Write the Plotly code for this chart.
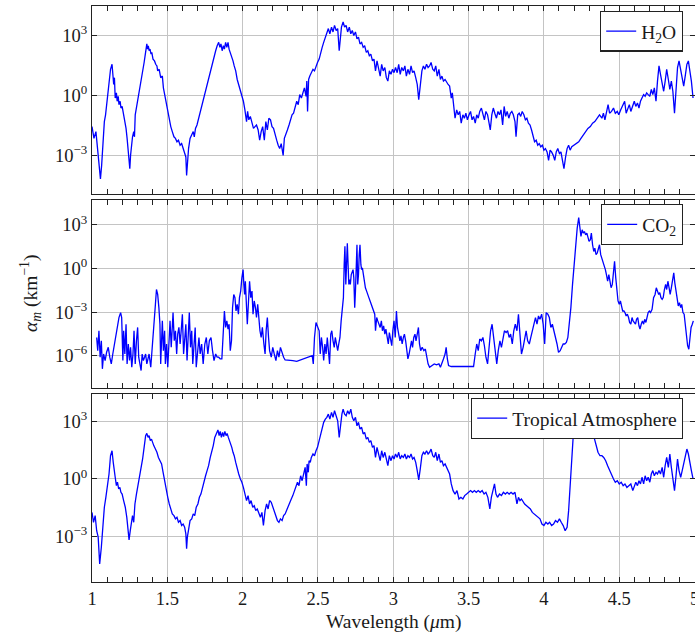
import numpy as np
import plotly.graph_objects as go

# ---------------- data (wavelength in um, log10 of alpha_m in km^-1) ----------------
h2o_wl = [
 1.000,1.013,1.026,1.038,1.046,1.056,1.064,1.072,1.082,1.090,
 1.097,1.108,1.115,1.123,1.133,1.138,1.144,1.149,1.154,1.162,
 1.167,1.174,1.179,1.187,1.192,1.200,1.210,1.218,1.226,1.233,
 1.241,1.246,1.251,1.256,1.262,1.269,1.277,1.282,1.287,1.295,
 1.303,1.310,1.321,1.328,1.338,1.346,1.354,1.359,1.364,1.369,
 1.374,1.379,1.385,1.392,1.397,1.405,1.415,1.423,1.431,1.436,
 1.446,1.456,1.467,1.474,1.482,1.492,1.503,1.513,1.523,1.533,
 1.544,1.554,1.564,1.574,1.585,1.595,1.605,1.615,1.623,1.628,
 1.633,1.641,1.651,1.662,1.672,1.679,1.687,1.697,1.708,1.718,
 1.728,1.738,1.749,1.759,1.769,1.779,1.790,1.800,1.810,1.821,
 1.831,1.841,1.849,1.856,1.864,1.872,1.879,1.887,1.895,1.903,
 1.910,1.918,1.928,1.936,1.944,1.954,1.964,1.974,1.985,1.995,
 2.005,2.015,2.026,2.033,2.041,2.051,2.062,2.072,2.082,2.092,
 2.103,2.113,2.123,2.133,2.144,2.154,2.164,2.174,2.185,2.195,
 2.205,2.215,2.226,2.236,2.246,2.256,2.269,2.277,2.287,2.297,
 2.308,2.318,2.328,2.338,2.349,2.359,2.369,2.379,2.390,2.400,
 2.410,2.421,2.426,2.431,2.438,2.446,2.456,2.467,2.477,2.487,
 2.497,2.508,2.518,2.528,2.538,2.549,2.559,2.569,2.579,2.590,
 2.600,2.610,2.621,2.631,2.641,2.649,2.656,2.667,2.677,2.687,
 2.697,2.708,2.718,2.728,2.738,2.749,2.759,2.769,2.779,2.790,
 2.800,2.810,2.821,2.831,2.841,2.851,2.862,2.872,2.882,2.892,
 2.903,2.913,2.923,2.933,2.944,2.954,2.964,2.974,2.985,2.995,
 3.005,3.015,3.026,3.036,3.046,3.056,3.067,3.077,3.087,3.097,
 3.108,3.118,3.128,3.138,3.149,3.159,3.169,3.179,3.190,3.200,
 3.210,3.221,3.231,3.241,3.251,3.262,3.272,3.282,3.292,3.303,
 3.313,3.323,3.333,3.344,3.354,3.364,3.374,3.385,3.392,3.400,
 3.410,3.421,3.431,3.441,3.451,3.462,3.472,3.482,3.492,3.503,
 3.513,3.523,3.533,3.544,3.554,3.564,3.574,3.585,3.595,3.605,
 3.615,3.626,3.636,3.644,3.654,3.664,3.674,3.685,3.695,3.705,
 3.715,3.726,3.736,3.746,3.756,3.767,3.777,3.787,3.797,3.808,
 3.815,3.826,3.836,3.846,3.856,3.867,3.877,3.887,3.897,3.908,
 3.918,3.928,3.938,3.949,3.959,3.969,3.979,3.990,4.000,4.010,
 4.021,4.031,4.041,4.051,4.062,4.072,4.082,4.092,4.103,4.113,
 4.123,4.133,4.144,4.154,4.164,4.174,4.185,4.200,4.215,4.231,
 4.246,4.262,4.277,4.292,4.308,4.323,4.338,4.354,4.369,4.385,
 4.395,4.405,4.415,4.426,4.436,4.449,4.462,4.474,4.487,4.497,
 4.510,4.526,4.536,4.546,4.556,4.567,4.577,4.590,4.600,4.610,
 4.621,4.631,4.641,4.651,4.662,4.672,4.682,4.692,4.703,4.713,
 4.723,4.733,4.744,4.754,4.764,4.774,4.785,4.795,4.805,4.815,
 4.826,4.836,4.846,4.856,4.867,4.877,4.887,4.897,4.908,4.918,
 4.928,4.938,4.949,4.959,4.969,4.979,4.990]
h2o_log = [
 -1.57,-2.16,-1.82,-2.67,-3.34,-4.19,-3.51,-2.50,-1.32,-0.98,
 -0.47,0.20,0.71,1.30,1.55,1.05,0.54,0.88,-0.14,0.12,
 -0.30,-0.05,-0.47,-0.30,-0.64,-0.56,-0.98,-1.15,-1.66,-2.16,
 -2.84,-3.34,-3.68,-3.01,-2.50,-2.08,-1.82,-2.08,-0.98,-0.64,
 -0.30,0.03,0.37,0.79,1.22,1.64,2.06,2.48,2.57,2.31,
 2.48,2.23,2.31,2.06,2.15,1.81,1.72,1.55,1.47,1.22,
 1.30,0.88,0.96,0.37,0.03,-0.47,-0.90,-1.15,-1.57,-1.82,
 -2.08,-2.16,-2.33,-2.25,-2.50,-2.42,-2.67,-2.84,-3.09,-4.02,
 -3.34,-2.67,-2.16,-1.99,-1.82,-2.08,-1.66,-1.49,-1.15,-0.98,
 -0.56,-0.30,0.12,0.37,0.63,0.96,1.30,1.55,1.89,2.23,
 2.48,2.65,2.40,2.57,2.23,2.48,2.31,2.65,2.40,2.65,
 2.31,2.15,1.89,1.72,1.47,1.22,0.79,0.54,0.20,0.03,
 -0.30,-0.73,-1.32,-0.81,-1.23,-1.06,-1.40,-1.66,-1.57,-1.49,
 -1.74,-2.25,-1.82,-1.57,-2.25,-1.32,-1.74,-1.15,-1.23,-1.57,
 -1.66,-1.99,-2.25,-2.50,-2.67,-2.42,-3.01,-2.16,-1.99,-1.74,
 -1.49,-1.23,-0.98,-0.90,-0.64,-0.30,-0.47,0.03,-0.14,0.20,
 0.37,-0.05,0.71,-0.81,0.79,0.96,1.13,1.30,1.22,1.47,
 1.64,1.81,2.15,2.40,2.65,2.91,3.17,3.34,3.08,3.41,
 3.17,3.50,3.24,3.34,2.23,3.08,3.41,3.67,3.41,3.50,
 3.17,3.41,3.08,3.24,2.99,3.17,2.82,2.91,2.57,2.65,
 2.40,2.48,2.15,2.23,1.98,2.06,1.72,1.81,1.22,1.72,
 1.39,0.96,1.55,1.22,1.39,0.88,0.71,1.22,1.05,1.30,
 1.13,1.39,1.13,1.55,1.05,1.39,1.22,1.47,0.96,1.30,
 1.05,1.47,1.13,1.22,0.88,0.54,-0.22,0.54,1.22,1.47,
 1.30,1.55,1.39,1.47,1.64,1.30,1.22,1.47,0.96,1.30,
 0.79,0.96,0.71,0.79,0.63,0.54,0.46,-0.14,0.12,-0.64,
 -1.15,-0.73,-0.98,-0.81,-1.40,-0.98,-1.15,-0.90,-1.23,-0.98,
 -0.81,-1.23,-1.06,-1.40,-0.98,-1.15,-0.81,-0.64,-0.90,-1.23,
 -0.81,-0.98,-1.40,-1.74,-0.98,-0.64,-0.90,-1.15,-0.81,-0.98,
 -0.73,-1.49,-0.56,-1.06,-0.81,-1.15,-0.90,-0.81,-0.98,-1.32,
 -2.08,-0.98,-0.90,-1.06,-0.81,-0.98,-1.23,-1.15,-1.40,-1.49,
 -1.74,-1.99,-2.33,-2.25,-2.50,-2.42,-2.58,-2.50,-2.75,-2.67,
 -2.84,-3.26,-2.75,-2.84,-3.01,-3.26,-2.84,-2.67,-2.92,-2.84,
 -3.18,-3.68,-3.09,-2.67,-2.50,-2.75,-2.58,-2.50,-2.42,-2.33,
 -2.16,-1.99,-1.82,-1.66,-1.57,-1.40,-1.32,-1.15,-0.98,-1.15,
 -0.90,-1.23,-0.81,-0.47,-0.90,-0.81,-0.64,-0.90,-0.81,-0.98,
 -0.73,-0.47,-0.30,-0.90,-0.64,-0.47,-0.81,-0.56,-0.30,-0.56,
 -0.39,-0.64,-0.30,-0.14,0.03,-0.05,0.12,0.03,-0.05,0.29,
 0.03,0.37,-0.30,0.71,1.47,1.05,0.54,0.20,0.71,1.30,
 0.79,0.29,0.71,0.20,-0.90,0.37,1.39,1.72,1.30,0.88,
 0.46,0.96,1.55,1.72,1.22,0.71,-0.14]

co2_wl = [
 1.031,1.038,1.046,1.054,1.062,1.069,1.077,1.087,1.097,1.108,
 1.118,1.128,1.138,1.149,1.159,1.169,1.179,1.190,1.197,1.205,
 1.210,1.218,1.226,1.233,1.241,1.249,1.256,1.264,1.272,1.279,
 1.287,1.295,1.303,1.310,1.318,1.326,1.333,1.341,1.349,1.356,
 1.364,1.372,1.379,1.390,1.397,1.405,1.413,1.421,1.428,1.436,
 1.444,1.451,1.456,1.462,1.467,1.474,1.482,1.487,1.495,1.503,
 1.510,1.518,1.526,1.533,1.538,1.546,1.554,1.562,1.569,1.577,
 1.585,1.592,1.600,1.608,1.615,1.623,1.631,1.638,1.646,1.654,
 1.662,1.669,1.677,1.685,1.692,1.703,1.710,1.718,1.728,1.738,
 1.749,1.759,1.769,1.779,1.790,1.800,1.810,1.821,1.831,1.841,
 1.851,1.862,1.872,1.879,1.887,1.895,1.903,1.910,1.918,1.926,
 1.933,1.941,1.949,1.956,1.964,1.972,1.979,1.987,1.995,2.003,
 2.008,2.013,2.018,2.023,2.031,2.038,2.046,2.054,2.062,2.069,
 2.077,2.085,2.092,2.100,2.108,2.115,2.123,2.131,2.141,2.149,
 2.156,2.164,2.172,2.179,2.190,2.200,2.210,2.221,2.231,2.241,
 2.251,2.262,2.272,2.282,2.308,2.333,2.359,2.385,2.410,2.436,
 2.462,2.469,2.477,2.487,2.497,2.508,2.515,2.523,2.531,2.538,
 2.546,2.554,2.562,2.569,2.577,2.585,2.592,2.600,2.608,2.615,
 2.623,2.631,2.638,2.646,2.654,2.662,2.669,2.674,2.679,2.685,
 2.690,2.695,2.700,2.705,2.710,2.715,2.721,2.728,2.733,2.738,
 2.744,2.749,2.754,2.759,2.764,2.769,2.774,2.779,2.785,2.790,
 2.795,2.800,2.808,2.815,2.823,2.831,2.838,2.846,2.854,2.862,
 2.869,2.877,2.882,2.890,2.897,2.905,2.913,2.921,2.928,2.936,
 2.944,2.951,2.959,2.967,2.974,2.982,2.990,2.997,3.005,3.013,
 3.021,3.028,3.036,3.044,3.051,3.059,3.067,3.074,3.082,3.090,
 3.097,3.105,3.113,3.121,3.128,3.136,3.144,3.151,3.159,3.167,
 3.174,3.182,3.192,3.203,3.213,3.223,3.231,3.241,3.256,3.272,
 3.287,3.303,3.313,3.323,3.333,3.344,3.351,3.359,3.367,3.385,
 3.410,3.436,3.462,3.487,3.513,3.533,3.544,3.554,3.564,3.574,
 3.585,3.595,3.605,3.615,3.626,3.636,3.646,3.656,3.667,3.677,
 3.687,3.697,3.708,3.718,3.728,3.738,3.749,3.759,3.769,3.779,
 3.790,3.800,3.810,3.821,3.831,3.841,3.851,3.862,3.872,3.882,
 3.892,3.903,3.913,3.923,3.933,3.944,3.954,3.964,3.974,3.985,
 3.995,4.005,4.015,4.026,4.036,4.046,4.056,4.067,4.077,4.087,
 4.097,4.108,4.118,4.128,4.138,4.149,4.159,4.169,4.179,4.190,
 4.200,4.210,4.221,4.231,4.238,4.246,4.254,4.262,4.269,4.277,
 4.285,4.292,4.300,4.308,4.315,4.323,4.331,4.338,4.346,4.354,
 4.362,4.369,4.377,4.385,4.392,4.400,4.408,4.415,4.423,4.431,
 4.438,4.446,4.454,4.462,4.469,4.477,4.485,4.492,4.500,4.508,
 4.515,4.523,4.531,4.538,4.546,4.554,4.562,4.569,4.577,4.585,
 4.592,4.600,4.608,4.615,4.623,4.631,4.638,4.646,4.654,4.662,
 4.669,4.677,4.685,4.692,4.700,4.708,4.718,4.728,4.738,4.746,
 4.754,4.762,4.769,4.777,4.785,4.792,4.800,4.808,4.815,4.823,
 4.831,4.838,4.846,4.854,4.862,4.869,4.877,4.885,4.892,4.900,
 4.908,4.915,4.923,4.931,4.938,4.946,4.954,4.962,4.969,4.977,
 4.985,4.992]
co2_log = [
 -4.74,-5.65,-4.28,-6.10,-4.97,-6.90,-5.88,-6.33,-5.76,-5.42,
 -6.10,-6.56,-5.88,-5.19,-4.51,-3.83,-3.37,-3.03,-3.37,-6.33,
 -4.28,-5.88,-3.83,-6.56,-5.19,-6.33,-5.42,-6.79,-5.88,-4.28,
 -6.56,-4.97,-4.05,-6.10,-6.56,-7.02,-5.88,-6.33,-6.10,-5.88,
 -6.56,-6.10,-5.88,-6.79,-5.65,-4.28,-3.37,-2.46,-1.44,-1.78,
 -2.69,-3.83,-6.56,-4.97,-3.60,-5.65,-4.28,-6.56,-5.19,-6.79,
 -4.74,-3.60,-5.42,-4.05,-3.03,-4.97,-4.28,-5.88,-4.51,-4.05,
 -5.19,-4.28,-3.14,-5.88,-4.51,-3.83,-6.33,-4.51,-3.03,-5.42,
 -4.28,-6.56,-4.97,-4.05,-6.79,-5.42,-4.74,-5.88,-5.19,-6.56,
 -5.19,-4.74,-5.88,-4.97,-4.74,-5.65,-6.33,-5.88,-6.10,-6.10,
 -6.22,-6.22,-3.83,-2.92,-4.05,-3.60,-4.17,-3.83,-5.65,-4.97,
 -2.69,-1.78,-2.00,-2.92,-2.46,-3.14,-2.00,-1.55,-0.64,-0.07,
 -1.09,-1.78,-0.87,-2.69,-3.83,-2.46,-0.87,-2.00,-1.55,-3.14,
 -2.23,-2.69,-3.37,-2.46,-3.83,-4.28,-4.74,-4.05,-5.19,-5.88,
 -4.28,-3.37,-4.74,-5.65,-6.10,-5.42,-5.88,-6.33,-5.65,-6.10,
 -5.42,-5.88,-6.10,-6.29,-6.29,-6.33,-6.38,-6.29,-6.15,-6.06,
 -5.99,-6.56,-4.74,-3.71,-4.05,-4.28,-5.88,-4.74,-5.42,-6.33,
 -5.19,-5.88,-4.74,-5.42,-6.56,-4.51,-4.28,-4.97,-5.42,-4.74,
 -5.19,-5.65,-5.19,-4.74,-3.60,-2.92,-2.00,0.27,1.53,-1.09,
 0.27,1.75,0.27,-1.09,-0.75,-1.09,-0.41,-0.18,-0.07,-0.64,
 -2.69,-1.55,0.27,1.64,-1.09,-0.41,0.96,1.64,0.27,-0.07,
 0.05,-0.30,-0.87,-1.32,-1.55,-1.89,-2.00,-2.23,-2.46,-2.69,
 -3.03,-3.14,-4.28,-3.37,-3.60,-3.83,-4.05,-3.60,-4.28,-3.94,
 -4.51,-4.17,-4.74,-5.19,-4.40,-4.97,-5.31,-4.28,-3.60,-4.74,
 -2.92,-4.05,-4.51,-4.97,-4.63,-5.19,-4.74,-4.51,-4.97,-5.65,
 -6.22,-5.88,-5.31,-4.97,-5.42,-4.74,-4.51,-4.97,-4.51,-4.05,
 -5.19,-5.65,-5.42,-5.65,-5.54,-6.10,-6.56,-6.79,-6.67,-6.56,
 -6.63,-6.56,-6.79,-6.56,-6.22,-5.88,-5.42,-6.22,-6.67,-6.74,
 -6.74,-6.74,-6.74,-6.74,-6.74,-6.74,-5.88,-5.19,-5.65,-4.85,
 -4.97,-4.74,-5.31,-6.10,-6.56,-5.19,-4.28,-3.83,-4.97,-5.88,
 -6.56,-5.65,-4.97,-5.42,-4.74,-4.28,-4.40,-4.28,-4.74,-4.51,
 -5.19,-4.28,-3.83,-4.28,-3.14,-4.74,-5.88,-5.42,-4.74,-4.28,
 -4.97,-5.19,-4.74,-4.28,-3.83,-3.37,-3.83,-3.26,-3.49,-3.14,
 -3.83,-5.19,-3.03,-3.14,-3.37,-4.05,-3.83,-4.28,-4.74,-5.19,
 -5.76,-5.65,-5.42,-5.19,-5.19,-5.08,-4.74,-3.83,-2.69,-1.09,
 0.27,1.64,2.78,3.51,2.89,2.21,2.67,2.44,2.55,2.32,
 2.44,2.10,1.87,1.98,2.44,1.64,1.18,1.41,0.96,1.07,
 1.41,1.64,0.96,0.73,0.39,0.27,-0.07,-0.41,-0.87,-0.41,
 -0.75,-1.32,-1.09,-0.07,0.50,-0.64,-1.78,-2.23,-2.46,-2.23,
 -2.57,-2.92,-2.92,-3.03,-3.26,-3.14,-3.37,-3.71,-3.83,-3.37,
 -3.60,-3.71,-3.83,-3.49,-3.37,-3.94,-4.17,-3.83,-3.60,-3.83,
 -3.49,-3.71,-3.26,-3.03,-2.92,-3.03,-2.80,-2.00,-1.78,-1.32,
 -1.55,-1.78,-1.66,-2.00,-2.12,-2.00,-1.44,-1.09,-1.44,-0.87,
 -1.32,-1.78,-1.32,-0.64,-0.30,-0.98,-1.55,-2.23,-2.57,-2.35,
 -2.69,-2.46,-3.03,-3.14,-3.83,-4.51,-5.31,-5.55,-4.51,-4.05,
 -3.83,-3.60]

trop_wl = [
 1.000,1.010,1.021,1.031,1.041,1.051,1.062,1.072,1.082,1.092,
 1.103,1.113,1.123,1.133,1.141,1.146,1.154,1.162,1.169,1.177,
 1.185,1.192,1.200,1.210,1.221,1.231,1.238,1.246,1.254,1.262,
 1.269,1.277,1.285,1.295,1.305,1.315,1.326,1.336,1.346,1.356,
 1.364,1.372,1.379,1.387,1.395,1.403,1.410,1.421,1.431,1.441,
 1.451,1.462,1.472,1.482,1.492,1.503,1.513,1.523,1.533,1.544,
 1.554,1.564,1.574,1.585,1.595,1.605,1.615,1.623,1.628,1.633,
 1.641,1.651,1.662,1.672,1.682,1.692,1.703,1.713,1.723,1.733,
 1.744,1.754,1.764,1.774,1.785,1.795,1.805,1.815,1.826,1.836,
 1.844,1.851,1.859,1.867,1.874,1.882,1.890,1.897,1.905,1.913,
 1.921,1.928,1.936,1.944,1.954,1.964,1.974,1.985,1.995,2.005,
 2.015,2.026,2.036,2.046,2.056,2.067,2.077,2.087,2.097,2.108,
 2.118,2.128,2.138,2.149,2.159,2.169,2.179,2.190,2.200,2.210,
 2.221,2.231,2.241,2.251,2.262,2.272,2.282,2.292,2.303,2.313,
 2.323,2.333,2.344,2.354,2.364,2.374,2.385,2.395,2.405,2.415,
 2.423,2.428,2.436,2.441,2.449,2.456,2.467,2.477,2.487,2.497,
 2.508,2.518,2.528,2.538,2.549,2.559,2.569,2.579,2.590,2.600,
 2.610,2.621,2.631,2.641,2.649,2.659,2.667,2.677,2.687,2.697,
 2.708,2.718,2.728,2.738,2.749,2.759,2.769,2.779,2.790,2.800,
 2.810,2.821,2.831,2.841,2.851,2.862,2.872,2.882,2.892,2.903,
 2.913,2.923,2.933,2.944,2.954,2.964,2.974,2.985,2.995,3.005,
 3.015,3.026,3.036,3.046,3.056,3.067,3.077,3.087,3.097,3.108,
 3.118,3.128,3.138,3.149,3.159,3.169,3.179,3.190,3.200,3.210,
 3.221,3.231,3.241,3.251,3.262,3.272,3.282,3.292,3.303,3.313,
 3.323,3.333,3.344,3.354,3.364,3.374,3.385,3.397,3.410,3.423,
 3.436,3.449,3.462,3.474,3.487,3.500,3.513,3.526,3.538,3.551,
 3.564,3.577,3.590,3.603,3.615,3.628,3.641,3.651,3.662,3.672,
 3.682,3.692,3.705,3.718,3.731,3.744,3.756,3.769,3.782,3.795,
 3.808,3.821,3.831,3.841,3.851,3.862,3.872,3.885,3.897,3.910,
 3.923,3.936,3.949,3.962,3.974,3.987,4.000,4.013,4.026,4.038,
 4.051,4.064,4.077,4.090,4.103,4.115,4.128,4.141,4.154,4.164,
 4.174,4.185,4.195,4.205,4.218,4.231,4.244,4.256,4.269,4.282,
 4.295,4.308,4.321,4.333,4.346,4.359,4.372,4.385,4.397,4.410,
 4.423,4.436,4.449,4.462,4.474,4.487,4.500,4.513,4.526,4.538,
 4.551,4.564,4.577,4.590,4.600,4.610,4.621,4.631,4.641,4.651,
 4.662,4.672,4.682,4.692,4.703,4.713,4.723,4.733,4.744,4.754,
 4.764,4.774,4.785,4.795,4.805,4.815,4.826,4.836,4.846,4.856,
 4.867,4.877,4.887,4.897,4.908,4.918,4.928,4.938,4.949,4.959,
 4.969,4.979,4.990]
trop_log = [
 -1.75,-2.27,-1.92,-2.71,-3.05,-4.45,-3.58,-2.36,-1.48,-0.96,
 -0.26,0.26,1.22,1.48,0.87,0.44,0.09,-0.35,-0.17,-0.52,
 -0.44,-0.70,-0.79,-1.13,-1.48,-2.01,-2.71,-3.19,-2.71,-2.18,
 -1.92,-2.27,-1.31,-0.79,-0.35,0.09,0.52,1.05,1.66,2.27,
 2.39,2.18,2.27,2.01,2.09,1.83,1.75,1.57,1.40,1.13,
 0.96,0.79,0.35,-0.09,-0.61,-0.96,-1.31,-1.57,-1.83,-1.92,
 -2.09,-2.01,-2.27,-2.18,-2.44,-2.36,-2.53,-2.88,-3.66,-3.05,
 -2.53,-2.18,-2.09,-1.83,-1.92,-1.48,-1.31,-0.96,-0.79,-0.44,
 -0.17,0.17,0.44,0.70,1.13,1.40,1.75,2.18,2.44,2.57,
 2.27,2.50,2.18,2.44,2.22,2.50,2.27,2.39,2.18,2.01,
 1.83,1.66,1.40,1.22,0.87,0.52,0.26,0.00,-0.17,-0.44,
 -0.79,-1.13,-0.87,-1.31,-1.13,-1.48,-1.40,-1.66,-1.57,-1.83,
 -2.01,-1.75,-2.44,-1.66,-1.31,-1.57,-1.13,-1.22,-1.48,-1.66,
 -1.92,-2.18,-2.27,-2.09,-2.18,-1.92,-1.83,-1.66,-1.40,-1.31,
 -1.05,-0.87,-0.61,-0.44,-0.17,-0.35,0.17,-0.09,0.35,0.61,
 -0.35,0.79,0.35,0.96,0.87,1.13,1.31,1.22,1.48,1.66,
 2.01,2.36,2.71,2.97,3.14,3.23,3.40,3.14,3.49,3.23,
 3.58,3.32,3.05,2.18,2.88,3.40,3.66,3.40,3.32,3.58,
 3.40,3.66,3.23,3.05,3.23,2.79,2.97,2.62,2.71,2.36,
 2.44,2.09,2.18,1.92,2.01,1.66,1.75,1.13,1.66,1.22,
 0.96,1.48,1.13,1.40,0.96,0.70,1.22,0.96,1.22,1.05,
 1.31,1.13,1.40,1.05,1.22,1.13,1.31,1.05,1.22,1.13,
 1.31,1.05,1.13,0.87,0.44,-0.05,0.52,1.22,1.40,1.31,
 1.48,1.31,1.40,1.57,1.22,1.13,1.40,0.96,1.31,0.87,
 0.96,0.70,0.79,0.61,0.44,0.26,-0.26,-0.61,-0.79,-0.61,
 -1.05,-0.96,-1.05,-0.87,-0.79,-0.70,-0.61,-0.70,-0.61,-0.70,
 -0.61,-0.70,-0.61,-0.79,-0.70,-0.96,-1.57,-0.96,-0.61,-0.26,
 -0.79,-0.96,-0.79,-0.87,-0.70,-0.79,-0.70,-0.79,-0.70,-0.79,
 -0.70,-1.31,-0.96,-1.13,-1.05,-1.22,-1.31,-1.40,-1.48,-1.57,
 -1.75,-1.83,-1.92,-2.01,-2.09,-2.36,-2.44,-2.27,-2.36,-2.27,
 -2.44,-2.36,-2.18,-2.27,-2.09,-2.27,-2.44,-2.71,-2.53,-1.66,
 -0.26,1.13,2.53,3.58,4.05,4.10,4.00,3.85,3.90,3.70,
 3.40,3.05,2.62,2.18,1.75,1.40,1.22,1.22,1.13,0.96,
 0.70,0.44,0.26,0.00,-0.17,-0.09,-0.26,-0.17,-0.35,-0.26,
 -0.44,-0.35,-0.26,-0.61,-0.35,-0.17,-0.35,-0.09,-0.26,0.09,
 -0.26,0.17,-0.09,0.09,-0.17,0.26,0.44,0.17,0.35,0.26,
 0.44,0.26,0.61,0.09,0.70,1.13,0.61,1.31,0.61,0.09,
 -0.61,0.17,1.05,0.44,0.09,0.44,0.87,1.22,1.57,1.31,
 0.96,0.44,0.00]

panel_names = ["H<sub>2</sub>O", "CO<sub>2</sub>", "Tropical Atmosphere"]
yticks_top = [3, 0, -3]
yticks_mid = [3, 0, -3, -6]
yticks_bot = [3, 0, -3]
xtick_vals = [1, 1.5, 2, 2.5, 3, 3.5, 4, 4.5, 5]
xtick_text = ["1", "1.5", "2", "2.5", "3", "3.5", "4", "4.5", "5"]


def pow_label(p):
    return "10<sup>" + (str(p) if p >= 0 else "\u2212" + str(-p)) + "</sup>"


FONT = "Liberation Serif"
BLUE = "#0000ff"
GRID = "#c4c4c4"
TXT = "#1a1a1a"

fig = go.Figure()
series = [(h2o_wl, h2o_log), (co2_wl, co2_log), (trop_wl, trop_log)]
for i, (wl, lg) in enumerate(series):
    sfx = "" if i == 0 else str(i + 1)
    fig.add_trace(go.Scatter(
        x=wl, y=10 ** np.array(lg), mode="lines", name=panel_names[i],
        line=dict(color=BLUE, width=1.3), xaxis="x" + sfx, yaxis="y" + sfx,
        legend="legend" + sfx, showlegend=True, hoverinfo="skip"))

H = 576.0
domains = [[(582 - 194.3) / H, 1.0], [(582 - 388.3) / H, (582 - 200) / H], [0.0, (582 - 394.3) / H]]
yranges = [[-4.96, 4.47], [-8.24, 4.72], [-5.4, 4.44]]
ytick_sets = [yticks_top, yticks_mid, yticks_bot]

layout = dict(
    template="none",
    width=695, height=639,
    margin=dict(l=92, r=0, t=6, b=57, autoexpand=False),
    paper_bgcolor="white", plot_bgcolor="white",
    font=dict(family=FONT, size=18.5, color=TXT),
)
for i in range(3):
    sfx = "" if i == 0 else str(i + 1)
    layout["xaxis" + sfx] = dict(
        domain=[0, 1], range=[1, 5.003], anchor="y" + sfx, automargin=False,
        tickmode="array", tickvals=xtick_vals, ticktext=xtick_text,
        showticklabels=(i == 2), ticklabeloverflow="allow",
        ticks="inside", ticklen=5, tickcolor="#222",
        showgrid=True, gridcolor=GRID, gridwidth=1,
        showline=True, linecolor="#222", linewidth=1.3, mirror="allticks",
        minor=dict(dtick=0.1, ticks="inside", ticklen=5, tickcolor="#222", showgrid=False),
        zeroline=False, tickfont=dict(size=18.5, color=TXT),
    )
    layout["yaxis" + sfx] = dict(
        domain=domains[i], type="log", range=yranges[i], anchor="x" + sfx, automargin=False,
        tickmode="array", tickvals=[10.0 ** p for p in ytick_sets[i]],
        ticktext=[pow_label(p) for p in ytick_sets[i]],
        ticks="inside", ticklen=5, tickcolor="#222",
        showgrid=True, gridcolor=GRID, gridwidth=1,
        showline=True, linecolor="#222", linewidth=1.3, mirror="allticks",
        zeroline=False, tickfont=dict(size=18.5, color=TXT),
    )

legend_tops = [(582 - 10.7) / H, (582 - 204) / H, (582 - 397.7) / H]
for i in range(3):
    sfx = "" if i == 0 else str(i + 1)
    layout["legend" + sfx] = dict(
        x=(683 - 92) / 603.0, y=legend_tops[i], xanchor="right", yanchor="top",
        bgcolor="white", bordercolor="#222", borderwidth=1.2,
        font=dict(family=FONT, size=19.5, color=TXT),
    )

fig.update_layout(**layout)

fig.add_annotation(
    text="<i>\u03b1<sub>m</sub></i> (km<sup>\u22121</sup>)", xref="paper", yref="paper",
    x=(30 - 92) / 603.0, y=(582 - 294) / H, textangle=-90, showarrow=False,
    font=dict(family=FONT, size=19.5, color=TXT), xanchor="center", yanchor="middle")
fig.add_annotation(
    text="Wavelength (<i>\u03bc</i>m)", xref="paper", yref="paper",
    x=(393 - 92) / 603.0, y=(582 - 622) / H, showarrow=False,
    font=dict(family=FONT, size=19.5, color=TXT), xanchor="center", yanchor="middle")

fig.write_html(
    "out.html",
    config={"displayModeBar": False},
    post_script="document.body.style.margin='0';document.body.style.overflow='hidden';",
)
